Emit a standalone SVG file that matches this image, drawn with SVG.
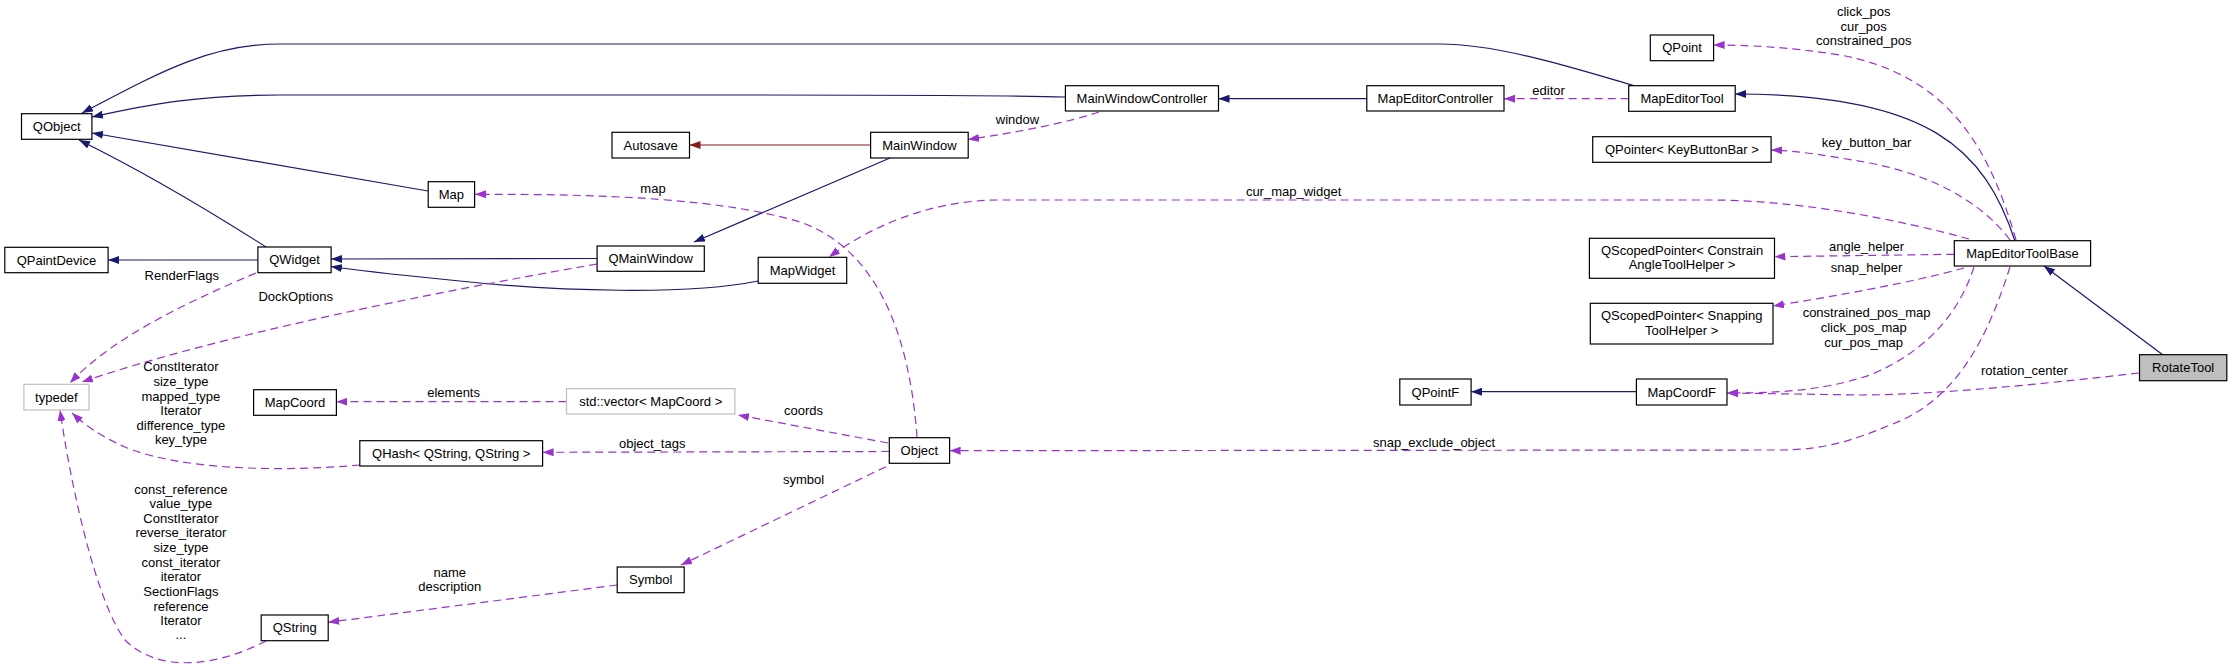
<svg xmlns="http://www.w3.org/2000/svg" width="2232" height="665" viewBox="0 0 2232 665">
<defs>
<style>
.n rect{fill:#fff;stroke:#000;stroke-width:1.2}
.n.g rect{stroke:#bfbfbf}
.n.c rect{fill:#bfbfbf}
text{font-family:"Liberation Sans",Arial,sans-serif;font-size:13px;fill:#000;text-anchor:middle}
.e path{fill:none;stroke-width:1.2}
.inh{stroke:#191970}
.col{stroke:#9a32cd;stroke-dasharray:8,5}
.red{stroke:#8b1a1a}
</style>
<marker id="ab" viewBox="0 0 11 8" refX="11" refY="4" markerWidth="11" markerHeight="8" orient="auto" markerUnits="userSpaceOnUse"><path d="M0,0 L11,4 L0,8 z" fill="#191970" stroke="none"/></marker>
<marker id="ap" viewBox="0 0 11 8" refX="11" refY="4" markerWidth="11" markerHeight="8" orient="auto" markerUnits="userSpaceOnUse"><path d="M0,0 L11,4 L0,8 z" fill="#9a32cd" stroke="none"/></marker>
<marker id="ar" viewBox="0 0 11 8" refX="11" refY="4" markerWidth="11" markerHeight="8" orient="auto" markerUnits="userSpaceOnUse"><path d="M0,0 L11,4 L0,8 z" fill="#8b1a1a" stroke="none"/></marker>
</defs>
<rect width="2232" height="665" fill="#fff"/>
<g id="edges" class="e">
<!-- inheritance -->
<path class="inh" marker-end="url(#ab)" d="M1635,86 C1580,70 1500,44 1440,44 L280,44 C210,44 160,72 82,113"/>
<path class="inh" marker-end="url(#ab)" d="M1065,97 C1000,95 900,95 740,95 L280,95 C200,95 150,104 92,117"/>
<path class="inh" marker-end="url(#ab)" d="M428,191 L92,133"/>
<path class="inh" marker-end="url(#ab)" d="M266,247 C200,205 130,165 79,140"/>
<path class="inh" marker-end="url(#ab)" d="M258,260 L108,260"/>
<path class="inh" marker-end="url(#ab)" d="M597,258.5 L331,259"/>
<path class="inh" marker-end="url(#ab)" d="M758,281 C690,295 560,292 450,280 C400,275 360,271 331,266.5"/>
<path class="inh" marker-end="url(#ab)" d="M890,158 L694,242"/>
<path class="red" marker-end="url(#ar)" d="M870.6,145 L689.5,145"/>
<path class="inh" marker-end="url(#ab)" d="M1367,98.7 L1218.5,98.7"/>
<path class="inh" marker-end="url(#ab)" d="M2015,241 C1985,150 1930,94 1735,94"/>
<path class="inh" marker-end="url(#ab)" d="M2163,355 L2044,266"/>
<path class="inh" marker-end="url(#ab)" d="M1636.4,391.7 L1471.1,391.7"/>
<!-- collaboration -->
<path class="col" marker-end="url(#ap)" d="M1628.7,98.7 L1504,98.7"/>
<path class="col" marker-end="url(#ap)" d="M1099,112 C1070,122 1020,132 968,139.5"/>
<path class="col" marker-end="url(#ap)" d="M917,437 C910,340 880,250 800,222 C720,198 600,194 475,194.3"/>
<path class="col" marker-end="url(#ap)" d="M256,273 C180,305 110,340 70,383"/>
<path class="col" marker-end="url(#ap)" d="M597,264 C420,295 220,335 82,382"/>
<path class="col" marker-end="url(#ap)" d="M360,465 C280,472 180,470 125,447 C100,436 85,425 72,413"/>
<path class="col" marker-end="url(#ap)" d="M266,641 C220,665 160,675 125,640 C95,600 70,480 60,410"/>
<path class="col" marker-end="url(#ap)" d="M566.5,401.7 L336.4,401.7"/>
<path class="col" marker-end="url(#ap)" d="M889.3,451.5 L542.6,452.3"/>
<path class="col" marker-end="url(#ap)" d="M888,443 L738,415"/>
<path class="col" marker-end="url(#ap)" d="M886,466.7 L681,565"/>
<path class="col" marker-end="url(#ap)" d="M617.2,585 L328.2,622.3"/>
<path class="col" marker-end="url(#ap)" d="M2016,240 C1990,150 1950,75 1840,55 C1790,47 1745,45 1713.6,45"/>
<path class="col" marker-end="url(#ap)" d="M2010,240 C1980,200 1930,175 1870,163 C1830,156 1800,151 1771.1,150"/>
<path class="col" marker-end="url(#ap)" d="M1969,239 C1900,220 1800,200 1710,200 L1000,200 C940,200 880,220 829,257"/>
<path class="col" marker-end="url(#ap)" d="M1954.3,254.3 L1774.5,256.7"/>
<path class="col" marker-end="url(#ap)" d="M1964,268 C1910,283 1830,297 1773,306"/>
<path class="col" marker-end="url(#ap)" d="M1974,267 C1960,310 1930,350 1870,375 C1820,392 1770,393 1727,393"/>
<path class="col" marker-end="url(#ap)" d="M2139,373 C2060,382 1940,395 1860,395 L1727,393"/>
<path class="col" marker-end="url(#ap)" d="M2010,267 C1990,330 1960,400 1890,425 C1850,442 1820,450 1780,450 L949.6,450.7"/>
<!-- edge labels -->
<text x="653" y="192.5">map</text>
<text x="1017.5" y="123.8">window</text>
<text x="1293.6" y="196.2">cur_map_widget</text>
<text x="1548.6" y="95.2">editor</text>
<text x="1863.7" y="16.2">click_pos</text>
<text x="1863.7" y="31.2">cur_pos</text>
<text x="1863.7" y="45.2">constrained_pos</text>
<text x="1866.6" y="147.2">key_button_bar</text>
<text x="1866.6" y="251.2">angle_helper</text>
<text x="1866.6" y="272.2">snap_helper</text>
<text x="1866.6" y="317.2">constrained_pos_map</text>
<text x="1863.7" y="331.8">click_pos_map</text>
<text x="1863.7" y="347.2">cur_pos_map</text>
<text x="2024.4" y="375.2">rotation_center</text>
<text x="1434" y="447.2">snap_exclude_object</text>
<text x="803.6" y="415.2">coords</text>
<text x="803.6" y="483.5">symbol</text>
<text x="652.2" y="447.8">object_tags</text>
<text x="453.6" y="397.2">elements</text>
<text x="449.8" y="576.8">name</text>
<text x="449.8" y="591.2">description</text>
<text x="181.8" y="279.5">RenderFlags</text>
<text x="295.7" y="301.2">DockOptions</text>
<text x="180.9" y="371.2">ConstIterator</text>
<text x="180.9" y="385.5">size_type</text>
<text x="180.9" y="400.5">mapped_type</text>
<text x="180.9" y="415.2">Iterator</text>
<text x="180.9" y="429.5">difference_type</text>
<text x="180.9" y="443.8">key_type</text>
<text x="180.9" y="493.5">const_reference</text>
<text x="180.9" y="508.2">value_type</text>
<text x="180.9" y="522.8">ConstIterator</text>
<text x="180.9" y="537.2">reverse_iterator</text>
<text x="180.9" y="552.2">size_type</text>
<text x="180.9" y="566.8">const_iterator</text>
<text x="180.9" y="581.2">iterator</text>
<text x="180.9" y="596.2">SectionFlags</text>
<text x="180.9" y="611.2">reference</text>
<text x="180.9" y="625.2">Iterator</text>
<text x="180.9" y="639.2">...</text>
</g>
<g id="QObject" class="n"><rect x="21.5" y="113.7" width="70.4" height="25.6"/><text x="56.7" y="131">QObject</text></g>
<g id="Autosave" class="n"><rect x="612" y="132.3" width="77.5" height="25.7"/><text x="650.7" y="149.7">Autosave</text></g>
<g id="Map" class="n"><rect x="428.2" y="181.7" width="46.4" height="25.6"/><text x="451.4" y="199">Map</text></g>
<g id="QPaintDevice" class="n"><rect x="4.8" y="247.3" width="103.3" height="25.4"/><text x="56.4" y="264.5">QPaintDevice</text></g>
<g id="QWidget" class="n"><rect x="257.9" y="247" width="73.2" height="25.7"/><text x="294.5" y="264.3">QWidget</text></g>
<g id="QMainWindow" class="n"><rect x="597.1" y="246" width="107.2" height="25.3"/><text x="650.7" y="263.2">QMainWindow</text></g>
<g id="typedef" class="n g"><rect x="23.9" y="384.3" width="65.1" height="25.7"/><text x="56.4" y="401.7">typedef</text></g>
<g id="MapCoord" class="n"><rect x="253.6" y="389.7" width="82.8" height="25.6"/><text x="295" y="407">MapCoord</text></g>
<g id="stdvector" class="n g"><rect x="566.5" y="388.7" width="168.4" height="25.3"/><text x="650.7" y="405.9">std::vector&lt; MapCoord &gt;</text></g>
<g id="QHash" class="n"><rect x="359.8" y="440.7" width="182.8" height="25.3"/><text x="451.2" y="457.9">QHash&lt; QString, QString &gt;</text></g>
<g id="Symbol" class="n"><rect x="617.2" y="567" width="67" height="25.7"/><text x="650.7" y="584.3">Symbol</text></g>
<g id="QString" class="n"><rect x="261.2" y="615" width="67" height="25.7"/><text x="294.7" y="632.3">QString</text></g>
<g id="MainWindowController" class="n"><rect x="1065.4" y="85.7" width="153.1" height="25.3"/><text x="1142" y="102.9">MainWindowController</text></g>
<g id="MapEditorController" class="n"><rect x="1366.8" y="85.7" width="137.2" height="25.3"/><text x="1435.4" y="102.9">MapEditorController</text></g>
<g id="MainWindow" class="n"><rect x="870.6" y="132.3" width="97.6" height="25.7"/><text x="919.4" y="149.7">MainWindow</text></g>
<g id="MapWidget" class="n"><rect x="758.2" y="257.3" width="88.5" height="26"/><text x="802.5" y="274.8">MapWidget</text></g>
<g id="Object" class="n"><rect x="889.3" y="437.7" width="60.3" height="25.6"/><text x="919.4" y="455">Object</text></g>
<g id="QPointF" class="n"><rect x="1399.8" y="379" width="71.3" height="26"/><text x="1435.4" y="396.5">QPointF</text></g>
<g id="QPoint" class="n"><rect x="1650.3" y="35" width="63.3" height="25.7"/><text x="1682" y="52.3">QPoint</text></g>
<g id="MapEditorTool" class="n"><rect x="1628.7" y="85.7" width="106.5" height="25.6"/><text x="1682" y="103">MapEditorTool</text></g>
<g id="QPointerKeyButtonBar" class="n"><rect x="1592.7" y="136.7" width="178.4" height="25.6"/><text x="1681.9" y="154">QPointer&lt; KeyButtonBar &gt;</text></g>
<g id="QScopedPointerConstrain" class="n"><rect x="1589.4" y="238.3" width="185.1" height="40"/><text x="1682" y="254.5">QScopedPointer&lt; Constrain</text><text x="1682" y="268.8">AngleToolHelper &gt;</text></g>
<g id="QScopedPointerSnapping" class="n"><rect x="1590.3" y="303.3" width="182.7" height="40.7"/><text x="1681.7" y="319.8">QScopedPointer&lt; Snapping</text><text x="1681.7" y="335.2">ToolHelper &gt;</text></g>
<g id="MapEditorToolBase" class="n"><rect x="1954.3" y="240.7" width="136.3" height="25.3"/><text x="2022.5" y="257.9">MapEditorToolBase</text></g>
<g id="MapCoordF" class="n"><rect x="1636.4" y="379" width="90.6" height="26"/><text x="1681.7" y="396.5">MapCoordF</text></g>
<g id="RotateTool" class="n c"><rect x="2139.5" y="354.7" width="87.3" height="26"/><text x="2183.2" y="372.2">RotateTool</text></g>
</svg>
